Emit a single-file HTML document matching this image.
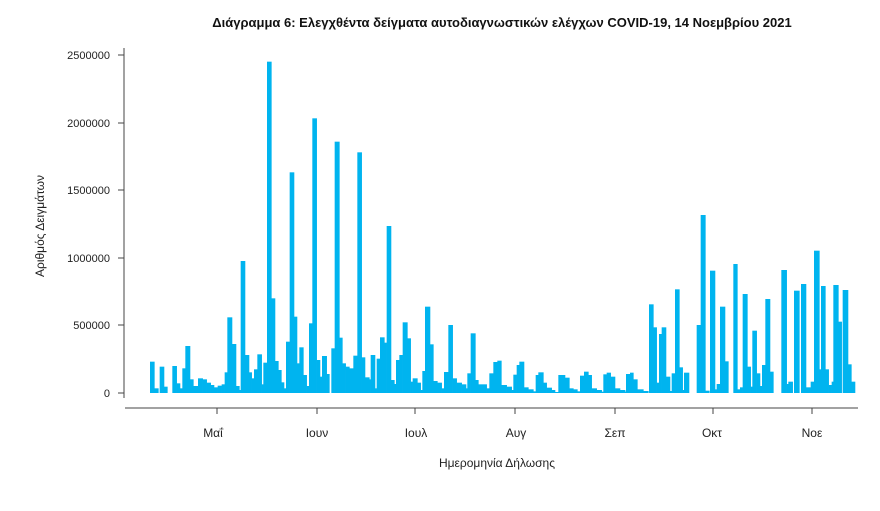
<!DOCTYPE html>
<html><head><meta charset="utf-8"><style>
body{margin:0;background:#fff;width:880px;height:511px;overflow:hidden}
svg{display:block;font-family:"Liberation Sans",sans-serif}
</style></head><body>
<svg id="s" width="880" height="511" viewBox="0 0 880 511">
<text x="502" y="27" text-anchor="middle" font-size="13" font-weight="bold" fill="#111">Διάγραμμα 6: Ελεγχθέντα δείγματα αυτοδιαγνωστικών ελέγχων COVID-19, 14 Νοεμβρίου 2021</text>
<g font-size="11" fill="#222" text-anchor="end">
<text x="110" y="59">2500000</text><text x="110" y="127">2000000</text><text x="110" y="194">1500000</text>
<text x="110" y="262">1000000</text><text x="110" y="329">500000</text><text x="110" y="397">0</text>
</g>
<g stroke="#444" stroke-width="1">
<line x1="124" y1="48" x2="124" y2="398"/>
<line x1="118" y1="55" x2="124" y2="55"/><line x1="118" y1="123" x2="124" y2="123"/><line x1="118" y1="190" x2="124" y2="190"/>
<line x1="118" y1="258" x2="124" y2="258"/><line x1="118" y1="325" x2="124" y2="325"/><line x1="118" y1="393" x2="124" y2="393"/>
<line x1="125" y1="408" x2="858" y2="408"/>
<line x1="217" y1="408" x2="217" y2="414"/><line x1="317" y1="408" x2="317" y2="414"/><line x1="415" y1="408" x2="415" y2="414"/>
<line x1="515" y1="408" x2="515" y2="414"/><line x1="615" y1="408" x2="615" y2="414"/><line x1="713" y1="408" x2="713" y2="414"/><line x1="812" y1="408" x2="812" y2="414"/>
</g>
<g font-size="12" fill="#222" text-anchor="middle">
<text x="213" y="437">Μαΐ</text><text x="317" y="437">Ιουν</text><text x="416" y="437">Ιουλ</text><text x="516" y="437">Αυγ</text>
<text x="615" y="437">Σεπ</text><text x="712" y="437">Οκτ</text><text x="812" y="437">Νοε</text>
<text x="497" y="467">Ημερομηνία Δήλωσης</text>
<text transform="translate(44,226) rotate(-90)">Αριθμός Δειγμάτων</text>
</g>
<g id="b" fill="#00b4ef"></g>
</svg>
<script>
var z1=[90,103,965,103,115,1045,119,132,980,132,142,1040,157,170,978,170,180,1030,180,187,1045,187,196,985,196,210,918,210,220,1018,220,234,1038,234,248,1015,248,260,1018,260,272,1028,272,282,1035,282,293,1042,293,305,1037,305,314,1033,314,322,997,322,336,832,336,348,912,348,358,1038,358,362,1050,362,375,663,375,387,945,387,395,997,395,402,1015,402,412,988,412,425,943,425,430,1033,430,441,968,441,454,65,454,465,775,465,475,963,475,484,990,484,492,1027,492,498,1045,498,509,905,509,522,397,522,531,830,531,538,970,538,550,922,550,560,1005,560,567,1038,567,577,850,577,590,235,590,600,960,600,606,1010,606,620,948,620,628,1002,634,644,925,644,658,305,658,667,893,667,677,970,677,688,980,688,700,985,700,712,947,712,725,337,725,738,952,738,750,1012];
var z2=[5,15,472,15,28,532,28,32,538,32,45,465,45,50,565,50,60,476,60,73,412,73,80,428,80,93,78,93,103,540,103,108,552,108,118,480,118,128,465,128,142,367,142,152,415,152,158,545,158,172,535,172,182,548,182,187,570,187,195,513,195,210,320,210,220,433,220,232,543,232,245,548,245,252,565,252,265,516,265,278,375,278,290,535,290,305,548,305,318,553,318,322,565,322,332,520,332,346,400,346,355,540,355,380,553,380,388,565,388,400,520,400,412,486,412,424,482,424,440,555,440,455,560,455,460,570,460,470,524,470,478,495,478,492,485,492,505,562,505,520,568,520,527,574,527,535,525,535,550,517,550,560,548,560,575,563,575,585,570,585,595,576,595,615,525,615,628,533,628,640,565,640,652,568,652,660,574,660,672,527,672,685,515,685,695,525,695,710,565,710,725,570,725,730,575,730,740,523,740,752,518,752,765,530,765,780,565,780,795,570,795,800,575];
var z3=[0,15,570,18,30,522,30,40,518,40,52,538,52,70,568,70,85,573,87,100,313,100,110,382,110,117,548,117,125,402,125,138,382,138,150,530,150,155,573,155,165,520,165,178,268,178,188,502,188,192,570,192,207,518,230,242,375,242,256,45,256,268,572,270,285,212,285,290,568,290,300,552,300,315,320,315,325,484,340,352,192,352,360,568,360,368,562,368,382,282,382,392,500,392,397,560,397,410,392,410,420,520,420,426,558,426,436,495,436,450,297,450,460,515,484,500,210,500,505,552,505,518,545,522,538,272,543,558,252,558,572,562,572,582,545,582,598,152,598,603,508,603,616,258,616,626,508,626,635,555,635,640,545,640,655,255,655,665,365,668,684,270,684,694,493,694,705,545];
var g=document.getElementById('b'),h='';
function add(a,ox,oy,xmax){for(var i=0;i<a.length;i+=3){var x0=ox+a[i]/3,x1=ox+a[i+1]/3,y=oy+a[i+2]/3;if(xmax&&x0>=xmax)continue;if(xmax&&x1>xmax)x1=xmax;if(y>=392.5)y=391.5;h+='<rect x="'+x0.toFixed(2)+'" y="'+y.toFixed(2)+'" width="'+(x1-x0+0.3).toFixed(2)+'" height="'+(393-y).toFixed(2)+'"/>';}}
add(z1,120,40,361.7);add(z2,360,200,626);add(z3,620,200,0);
g.innerHTML=h;
</script>
</body></html>
